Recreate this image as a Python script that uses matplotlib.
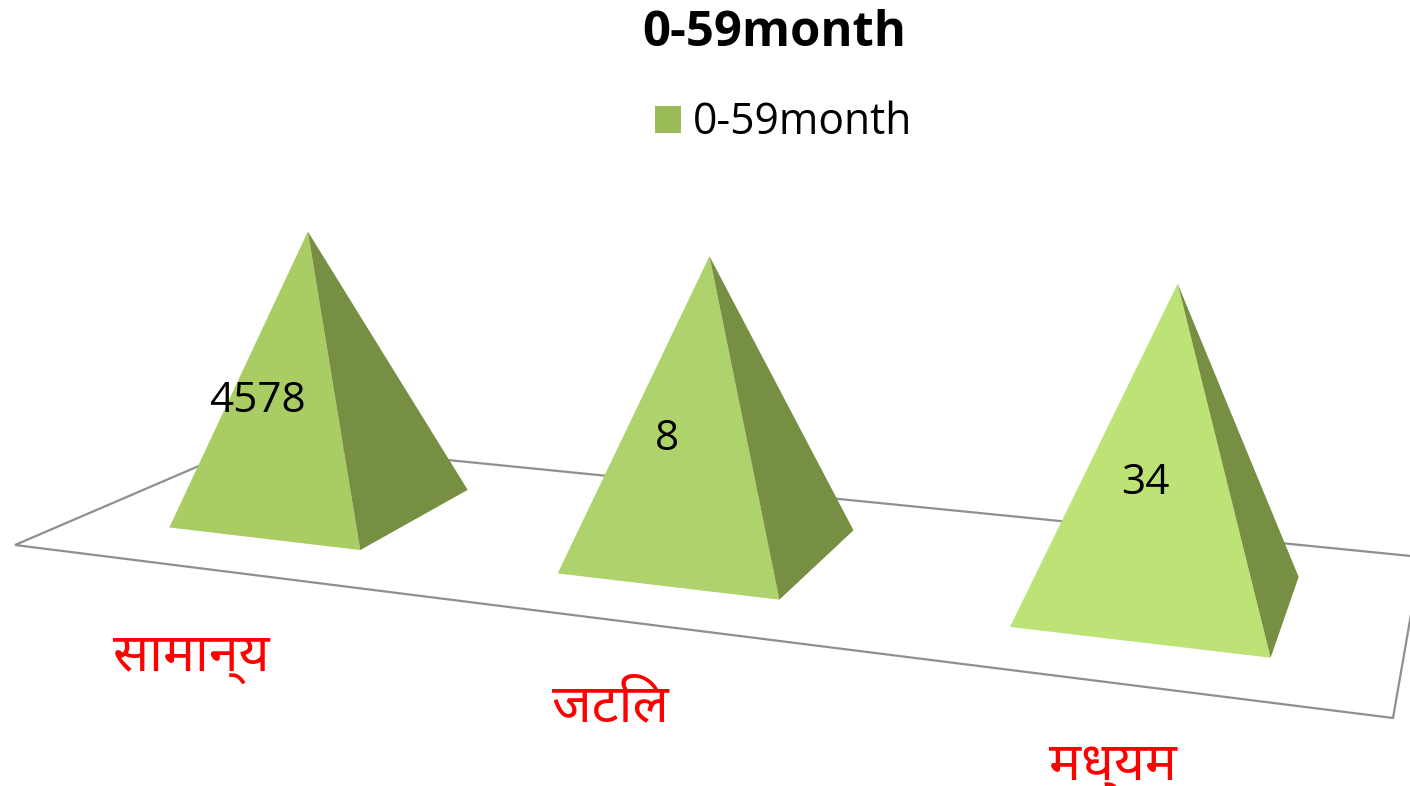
import numpy as np
import matplotlib
matplotlib.use('Agg')
import matplotlib.pyplot as plt
from matplotlib.patches import Polygon, Rectangle

categories = ['सामान्य', 'जटिल', 'मध्यम']
values = [4578, 8, 34]
# drawn height of each pyramid in the picture, not proportional to the values
drawn_heights = [277, 295, 318]
series_name = '0-59month'

front_colors = ['#A9CC63', '#AED36C', '#BDE377']
side_color = '#778F42'


def floor_map():
    # floor plane of the 3d chart -> pixels
    src = [(0, 0), (1, 0), (1, 1), (0, 1)]
    dst = [(15, 545), (1393, 718), (1421, 557), (257, 441)]
    A = []
    b = []
    for (u, v), (x, y) in zip(src, dst):
        A.append([u, v, 1, 0, 0, 0, -u * x, -v * x])
        A.append([0, 0, 0, u, v, 1, -u * y, -v * y])
        b += [x, y]
    return np.append(np.linalg.solve(np.array(A, float), np.array(b, float)), 1).reshape(3, 3)


H = floor_map()
VP = np.array([730.0, 8000.0])  # where the vertical lines meet


def project(u, v):
    p = H @ np.array([u, v, 1.0])
    return p[:2] / p[2]


plt.rcParams['font.family'] = ['Open Sans', 'Noto Sans', 'DejaVu Sans']
fig = plt.figure(figsize=(14.1, 7.86), dpi=100)
ax = fig.add_axes([0, 0, 1, 1])
ax.set_xlim(0, 1410)
ax.set_ylim(786, 0)
ax.axis('off')

floor = [project(0, 0), project(1, 0), project(1, 1), project(0, 1)]
ax.add_patch(Polygon(floor, closed=True, fill=False, edgecolor='#8F8F8F', linewidth=1.6, zorder=1))

half_u = 0.085
half_v = 0.263
u_shift = 0.002
label_pos = [(191, 657), (610, 707), (1113, 766)]
value_pos = [(257, 401), (667, 439), (1145, 483)]
for i, name in enumerate(categories):
    uc = (i + 0.5) / 3 + u_shift
    fl = project(uc - half_u, 0.5 - half_v)
    fr = project(uc + half_u, 0.5 - half_v)
    br = project(uc + half_u, 0.5 + half_v)
    c = project(uc, 0.5)
    up = (c - VP) / np.linalg.norm(c - VP)
    apex = c + up * drawn_heights[i]
    ax.add_patch(Polygon([fl, fr, apex], closed=True, facecolor=front_colors[i], edgecolor='none', zorder=3))
    ax.add_patch(Polygon([fr, br, apex], closed=True, facecolor=side_color, edgecolor='none', zorder=3))
    ax.text(*value_pos[i], str(values[i]), ha='center', va='center', fontsize=30.5, color='black', zorder=4)
    ax.text(*label_pos[i], name, ha='center', va='center', fontsize=38.5, color='#FF0000', zorder=4)

ax.text(774, 34, series_name, ha='center', va='center', fontsize=35.3, fontweight='bold', color='black')
ax.add_patch(Rectangle((655, 106), 26, 27, facecolor='#9BBB59', edgecolor='none'))
ax.text(693, 123, series_name, ha='left', va='center', fontsize=30.7, color='black')

fig.savefig('out.png', dpi=100)
